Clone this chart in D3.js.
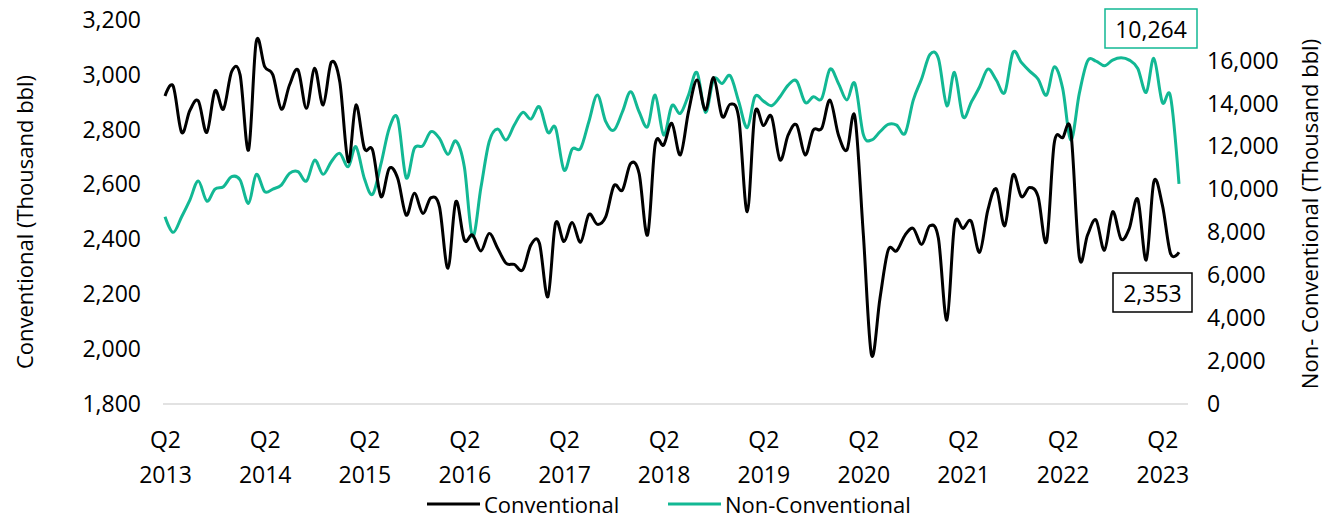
<!DOCTYPE html>
<html>
<head>
<meta charset="utf-8">
<script src="https://cdn.jsdelivr.net/npm/d3@7"></script>
<style>
  body { margin: 0; background: #fff; }
  text { font-family: "Open Sans", "Liberation Sans", Arial, sans-serif; fill: #000; }
</style>
</head>
<body>
<div id="chart"></div>
<script>
// monthly volumes, Apr 2013 .. Jun 2023 (thousand bbl)
var conventional = [
  2923, 2959, 2790, 2870, 2905, 2790, 2942, 2875, 3012, 3000, 2726, 3121,
  3030, 3000, 2875, 2963, 3018, 2878, 3024, 2890, 3046, 2975, 2683, 2890,
  2732, 2726, 2556, 2659, 2623, 2489, 2568, 2495, 2552, 2519, 2295, 2538,
  2398, 2416, 2358, 2422, 2368, 2313, 2309, 2289, 2380, 2386, 2191, 2459,
  2392, 2462, 2390, 2491, 2455, 2483, 2596, 2580, 2677, 2641, 2416, 2747,
  2744, 2823, 2708, 2866, 2981, 2872, 2990, 2848, 2893, 2842, 2501, 2860,
  2815, 2848, 2690, 2781, 2817, 2708, 2799, 2805, 2908, 2781, 2726, 2848,
  2420, 1979, 2185, 2361, 2358, 2416, 2440, 2382, 2450, 2404, 2106, 2453,
  2440, 2467, 2353, 2507, 2584, 2450, 2635, 2556, 2589, 2556, 2392, 2750,
  2771, 2793, 2335, 2416, 2471, 2361, 2501, 2401, 2440, 2547, 2325, 2611,
  2526, 2349, 2353
];
var nonConventional = [
  8731, 8001, 8731, 9508, 10393, 9461, 10020, 10129, 10595, 10440, 9353, 10704,
  9896, 10020, 10206, 10750, 10828, 10393, 11372, 10704, 11294, 11682, 11061, 11993,
  10517, 9772, 11200, 12847, 13313, 10548, 11915, 12039, 12691, 12381, 11636, 12260,
  11061, 7800, 10100, 12226, 12816, 12303, 13002, 13592, 13282, 13856, 12660, 12878,
  10905, 11884, 11915, 13158, 14400, 13158, 12769, 13623, 14555, 13623, 12924, 14400,
  12536, 13903, 13546, 14400, 15456, 13592, 15145, 14943, 15300, 14089, 12878, 14322,
  14120, 13903, 14322, 14866, 15052, 14058, 14322, 14245, 15611, 14943, 14167, 14943,
  12567, 12303, 12691, 13033, 13002, 12614, 14167, 15176, 16294, 16108, 13903, 15456,
  13391, 14058, 14788, 15611, 15099, 14524, 16388, 15922, 15518, 15145, 14400, 15719,
  14710, 12303, 14478, 15984, 15984, 15766, 16030, 16139, 16030, 15642, 14524, 16108,
  14058, 14322, 10264
];
var tickYears = [2013, 2014, 2015, 2016, 2017, 2018, 2019, 2020, 2021, 2022, 2023];
var leftTicks = [1800, 2000, 2200, 2400, 2600, 2800, 3000, 3200];
var rightTicks = [0, 2000, 4000, 6000, 8000, 10000, 12000, 14000, 16000];
var seriesNames = ["Conventional", "Non-Conventional"];

var startMonth = new Date(2013, 3, 1);
var months = d3.timeMonth.range(startMonth, d3.timeMonth.offset(startMonth, conventional.length));

var width = 1328, height = 519;
var black = "#000000", teal = "#12b894";
var fmt = d3.format(",");

var svg = d3.select("#chart").append("svg")
  .attr("width", width)
  .attr("height", height);

var x = d3.scaleTime()
  .domain([months[0], months[months.length - 1]])
  .range([165, 1179]);
var yL = d3.scaleLinear().domain([1800, 3200]).range([404, 20]);
var yR = d3.scaleLinear().domain([0, 17900]).range([404, 20]);

// bottom axis line
svg.append("line")
  .attr("x1", 163).attr("x2", 1188)
  .attr("y1", yL(1800)).attr("y2", yL(1800))
  .attr("stroke", "#d9d9d9")
  .attr("stroke-width", 1.5);

// left axis
var leftAxis = svg.append("g")
  .attr("transform", "translate(163,0)")
  .call(d3.axisLeft(yL).tickValues(leftTicks).tickFormat(fmt).tickSize(0).tickPadding(22));
leftAxis.select(".domain").remove();
leftAxis.selectAll("text").style("font-size", "23px");

// right axis
var rightAxis = svg.append("g")
  .attr("transform", "translate(1188,0)")
  .call(d3.axisRight(yR).tickValues(rightTicks).tickFormat(fmt).tickSize(0).tickPadding(19));
rightAxis.select(".domain").remove();
rightAxis.selectAll("text").style("font-size", "23px");

// x axis labels: Q2 / year
var xAxis = svg.append("g")
  .attr("transform", "translate(0,404)")
  .call(d3.axisBottom(x)
    .tickValues(tickYears.map(function(y) { return new Date(y, 3, 1); }))
    .tickSize(0)
    .tickFormat(""));
xAxis.select(".domain").remove();
xAxis.selectAll(".tick text").each(function(d) {
  var t = d3.select(this).attr("y", 0).attr("dy", null).style("font-size", "23px");
  t.append("tspan").attr("x", 0).attr("y", 44).text("Q2");
  t.append("tspan").attr("x", 0).attr("y", 79).text(d.getFullYear());
});

// axis titles
svg.append("text")
  .attr("transform", "translate(24,222) rotate(-90)")
  .attr("text-anchor", "middle")
  .attr("dominant-baseline", "central")
  .style("font-size", "22px")
  .text("Conventional (Thousand bbl)");

svg.append("text")
  .attr("transform", "translate(1309,214) rotate(-90)")
  .attr("text-anchor", "middle")
  .attr("dominant-baseline", "central")
  .style("font-size", "22px")
  .text("Non- Conventional (Thousand bbl)");

// lines
var curve = d3.curveCatmullRom.alpha(0);
var convLine = d3.line()
  .x(function(d, i) { return x(months[i]); })
  .y(function(d) { return yL(d); })
  .curve(curve);
var nonLine = d3.line()
  .x(function(d, i) { return x(months[i]); })
  .y(function(d) { return yR(d); })
  .curve(curve);

svg.append("path")
  .datum(nonConventional)
  .attr("fill", "none")
  .attr("stroke", teal)
  .attr("stroke-width", 3)
  .attr("stroke-linejoin", "round")
  .attr("d", nonLine);

svg.append("path")
  .datum(conventional)
  .attr("fill", "none")
  .attr("stroke", black)
  .attr("stroke-width", 3)
  .attr("stroke-linejoin", "round")
  .attr("d", convLine);

// last value callouts
function callout(x0, y0, w, h, color, value) {
  svg.append("rect")
    .attr("x", x0).attr("y", y0)
    .attr("width", w).attr("height", h)
    .attr("fill", "#fff")
    .attr("stroke", color)
    .attr("stroke-width", 1.5);
  svg.append("text")
    .attr("x", x0 + w / 2)
    .attr("y", y0 + h / 2)
    .attr("text-anchor", "middle")
    .attr("dominant-baseline", "central")
    .style("font-size", "23px")
    .text(fmt(value));
}
callout(1105, 9, 92, 39, teal, nonConventional[nonConventional.length - 1]);
callout(1113, 273, 79, 39, black, conventional[conventional.length - 1]);

// legend
var legend = svg.append("g").attr("transform", "translate(0,504)");
var legendItems = [
  {name: seriesNames[0], color: black, x: 427},
  {name: seriesNames[1], color: teal, x: 668}
];
legendItems.forEach(function(d) {
  legend.append("line")
    .attr("x1", d.x).attr("x2", d.x + 53)
    .attr("y1", 0).attr("y2", 0)
    .attr("stroke", d.color)
    .attr("stroke-width", 3);
  legend.append("text")
    .attr("x", d.x + 57)
    .attr("y", 0)
    .attr("dominant-baseline", "central")
    .style("font-size", "22px")
    .text(d.name);
});
</script>
</body>
</html>
